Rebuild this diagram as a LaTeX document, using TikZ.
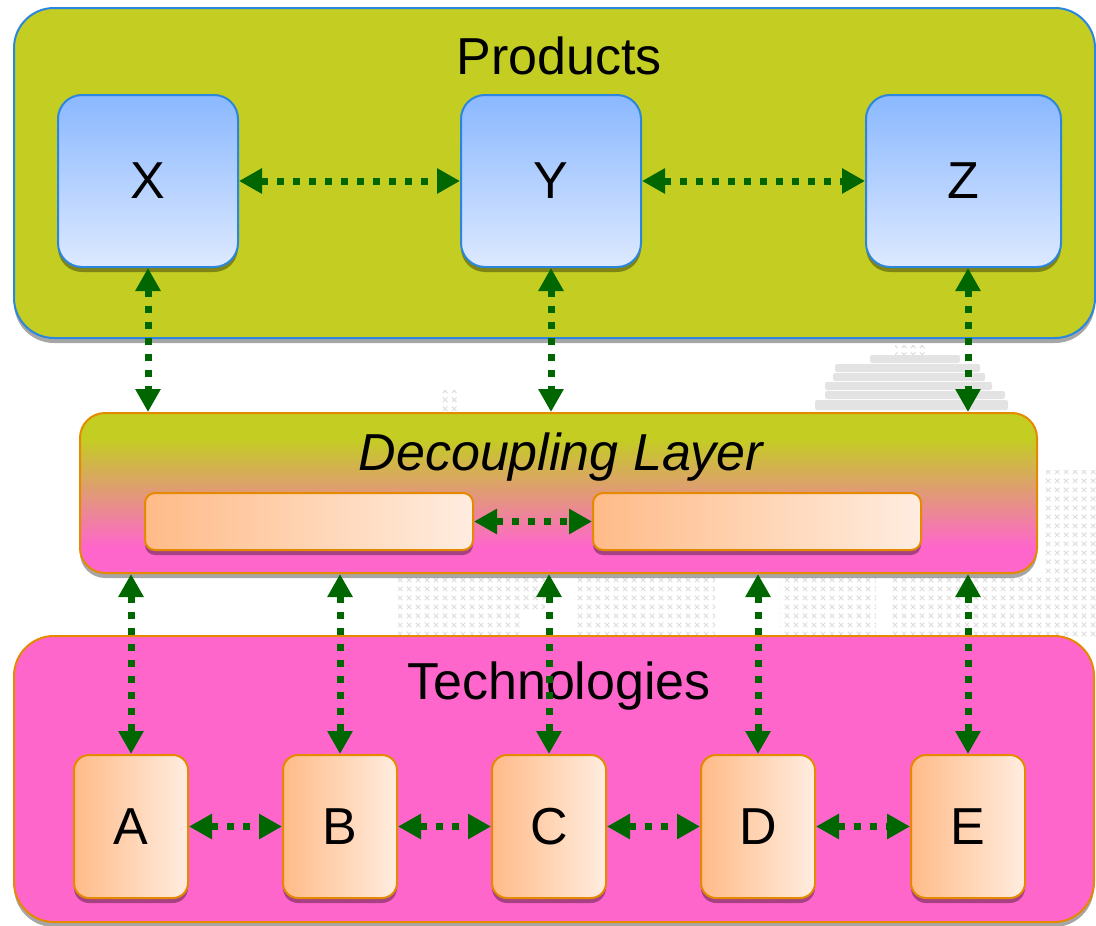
\documentclass[tikz,border=0pt]{standalone}
\usepackage{fontspec}
\setmainfont{Liberation Sans}
\usetikzlibrary{arrows.meta,shadows,calc,patterns.meta}

\definecolor{olv}{HTML}{C3CD22}
\definecolor{pnk}{HTML}{FF66CC}
\definecolor{bluebd}{HTML}{2B86DE}
\definecolor{bluetop}{HTML}{8AB8FF}
\definecolor{bluebot}{HTML}{DDE9FF}
\definecolor{orbd}{HTML}{E58A00}
\definecolor{orleft}{HTML}{FFBB88}
\definecolor{orright}{HTML}{FFEDE0}
\definecolor{grn}{HTML}{006600}

% olive at the top fading into pink at the bottom
\pgfdeclareverticalshading{decouple}{100bp}{%
  color(0bp)=(pnk); color(33bp)=(pnk); color(67bp)=(olv); color(100bp)=(olv)}

% grid of small crosses for the background map
\tikzdeclarepattern{name=xgrid, type=uncolored,
  bounding box={(0,0) and (9pt,9pt)}, tile size={(9pt,9pt)},
  code={\draw[line width=1.1pt] (2pt,2pt) -- (7pt,7pt) (2pt,7pt) -- (7pt,2pt);}}

\tikzset{
  big/.style={font=\fontsize{52}{60}\selectfont},
  shade/.style={drop shadow={shadow xshift=0pt, shadow yshift=-5pt,
                             opacity=0.35, fill=black}},
  layer/.style={draw=bluebd, line width=2pt, rounded corners=40pt, shade},
  prod/.style={draw=bluebd, line width=2pt, rounded corners=24pt,
               top color=bluetop, bottom color=bluebot, shade,
               minimum height=172pt, inner sep=0pt, big},
  tech/.style={draw=orbd, line width=2pt, rounded corners=15pt,
               left color=orleft, right color=orright, shade,
               minimum width=114pt, minimum height=143pt, inner sep=0pt, big},
  slot/.style={draw=orbd, line width=2pt, rounded corners=10pt,
               left color=orleft, right color=orright, shade,
               minimum width=328pt, minimum height=57pt, inner sep=0pt},
  link/.style={draw=grn, line width=7pt, dash pattern=on 7pt off 9pt,
               {Triangle[length=23pt,width=24pt]}-{Triangle[length=23pt,width=24pt]}},
  bar/.style={fill=black!11, rounded corners=2pt},
  xs/.style={pattern=xgrid, pattern color=black!13}
}

\begin{document}
\begin{tikzpicture}[x=1pt, y=-1pt]
\useasboundingbox (0,0) rectangle (1096,926);

% faint background map: stacked bars on the right
\path[xs] (895,345) rectangle (925,354);
\fill[bar] (870,355) rectangle (960,363);
\fill[bar] (835,364) rectangle (980,372);
\fill[bar] (833,373) rectangle (985,381);
\fill[bar] (825,382) rectangle (992,390);
\fill[bar] (825,391) rectangle (1005,399);
\fill[bar] (815,400) rectangle (1008,410);
\path[xs] (440,390) rectangle (458,410);
% faint background map: crosses below the middle layer
\path[xs] (398,574) rectangle (520,636);
\path[xs] (521,574) rectangle (545,610);
\path[xs] (576,574) rectangle (715,636);
\path[xs] (780,574) rectangle (876,636);
\path[xs] (892,574) rectangle (1096,636);
\path[xs] (1044,470) rectangle (1096,574);

% the three layers
\path[layer, fill=olv] (14,8) rectangle (1095,338);
\node[draw=orbd, line width=2pt, rounded corners=25pt, shading=decouple, shade,
      minimum width=957pt, minimum height=160pt] (dec) at (558.5,493) {};
\path[layer, draw=orbd, fill=pnk] (14,636) rectangle (1094,922);

% titles
\node[big, anchor=base] (ptitle) at (559,74) {Products};
\node[big, anchor=base, font=\fontsize{52}{60}\selectfont\itshape] (dtitle) at (561,470) {Decoupling Layer};
\node[big, anchor=base] (ttitle) at (559,699) {Technologies};

% products
\node[prod, minimum width=180pt] (X) at (148,181) {X};
\node[prod, minimum width=180pt] (Y) at (551,181) {Y};
\node[prod, minimum width=195pt] (Z) at (963.5,181) {Z};

% decoupling slots
\node[slot] (s1) at (309,521.5) {};
\node[slot] (s2) at (757,521.5) {};

% technologies
\node[tech] (A) at (131,826.5) {A};
\node[tech] (B) at (340,826.5) {B};
\node[tech] (C) at (549,826.5) {C};
\node[tech] (D) at (758,826.5) {D};
\node[tech] (E) at (968,826.5) {E};

% links between products
\draw[link] (X) -- (Y);
\draw[link] (Y) -- (Z);

% products to the decoupling layer
\draw[link] (X.south) -- (X.south |- dec.north);
\draw[link] (Y.south) -- (Y.south |- dec.north);
\draw[link] (Z.south -| E.north) -- (dec.north -| E.north);

% between the slots
\draw[link] (s1) -- (s2);

% decoupling layer to technologies
\foreach \t in {A,B,C,D,E}
  \draw[link] (dec.south -| \t.north) -- (\t.north);

% links between technologies
\draw[link] (A) -- (B);
\draw[link] (B) -- (C);
\draw[link] (C) -- (D);
\draw[link] (D) -- (E);
\end{tikzpicture}
\end{document}
